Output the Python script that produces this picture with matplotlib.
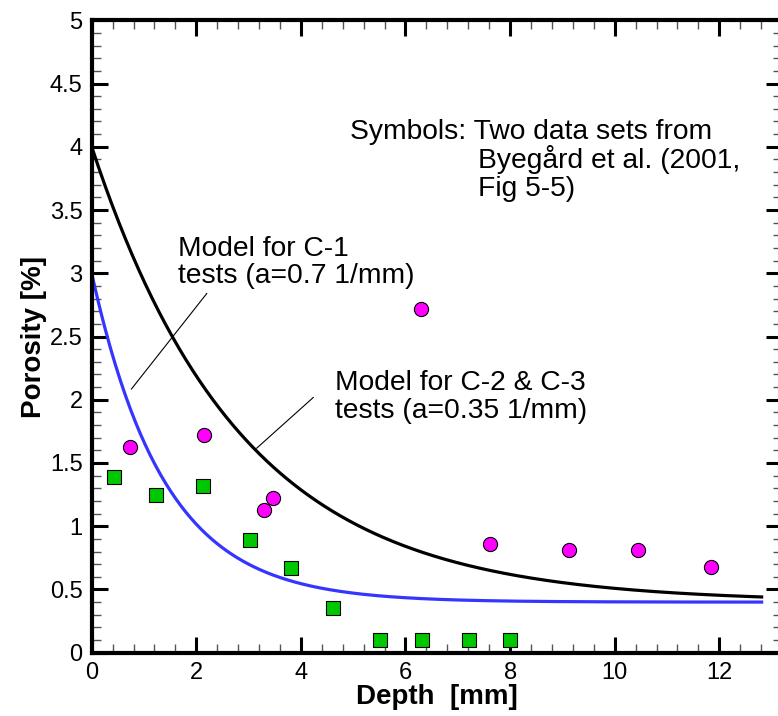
import numpy as np
import matplotlib
matplotlib.use("Agg")
import matplotlib.pyplot as plt
from matplotlib.ticker import MultipleLocator, FormatStrFormatter

plt.rcParams['font.family'] = ['Liberation Sans', 'DejaVu Sans']

# ---- data ----
sq_depth = [0.42, 1.22, 2.12, 3.02, 3.81, 4.61, 5.51, 6.31, 7.21, 8.0]
sq_porosity = [1.39, 1.25, 1.32, 0.89, 0.67, 0.35, 0.10, 0.10, 0.10, 0.10]

ci_depth = [0.73, 2.14, 3.29, 3.47, 6.30, 7.62, 9.12, 10.44, 11.85]
ci_porosity = [1.63, 1.72, 1.13, 1.22, 2.72, 0.86, 0.81, 0.81, 0.68]

# model curves: porosity = p_inf + (p0 - p_inf) * exp(-a * depth)
model_c1 = dict(p0=3.0, p_inf=0.40, a=0.72)
model_c23 = dict(p0=4.0, p_inf=0.40, a=0.35)
model_depth_max = 12.84

x_ticks = [0, 2, 4, 6, 8, 10, 12]
y_ticks = [0, 0.5, 1, 1.5, 2, 2.5, 3, 3.5, 4, 4.5, 5]

# ---- figure ----
W, H = 778, 716
fig = plt.figure(figsize=(W / 100, H / 100), dpi=100)
left_px, right_px, top_px, bot_px = 91.7, 782.0, 20.3, 652.7
ax = fig.add_axes([left_px / W, (H - bot_px) / H,
                   (right_px - left_px) / W, (bot_px - top_px) / H])

xd = np.linspace(0, model_depth_max, 400)
def model(p):
    return p['p_inf'] + (p['p0'] - p['p_inf']) * np.exp(-p['a'] * xd)

ax.plot(xd, model(model_c23), color='black', lw=2.3, solid_capstyle='butt', zorder=2)
ax.plot(xd, model(model_c1), color='#3535FF', lw=2.3, solid_capstyle='butt', zorder=2)

ax.plot(sq_depth, sq_porosity, ls='none', marker='s', ms=10,
        mfc='#00C800', mec='black', mew=0.8, zorder=3)
ax.plot(ci_depth, ci_porosity, ls='none', marker='o', ms=10.2,
        mfc='#FF00FF', mec='black', mew=0.8, zorder=3)

# leader lines
ax.plot([0.76, 2.20], [2.085, 2.84], color='black', lw=0.8, zorder=2)
ax.plot([3.155, 4.237], [1.617, 2.018], color='black', lw=0.8, zorder=2)

fs = 20.3
ax.text(1.656, 3.138, 'Model for C-1', fontsize=fs, va='baseline', ha='left')
ax.text(1.656, 2.920, 'tests (a=0.7 1/mm)', fontsize=fs, va='baseline', ha='left')
ax.text(4.652, 2.077, 'Model for C-2 & C-3', fontsize=fs, va='baseline', ha='left')
ax.text(4.652, 1.856, 'tests (a=0.35 1/mm)', fontsize=fs, va='baseline', ha='left')
ax.text(4.939, 4.058, 'Symbols: Two data sets from', fontsize=fs, va='baseline', ha='left')
ax.text(7.392, 3.836, 'Byegård et al. (2001,', fontsize=fs, va='baseline', ha='left')
ax.text(7.392, 3.614, 'Fig 5-5)', fontsize=fs, va='baseline', ha='left')

ax.set_xlim(0, (right_px - left_px) / 52.3)
ax.set_ylim(0, 5)
ax.set_xticks(x_ticks)
ax.set_yticks(y_ticks)
ax.xaxis.set_minor_locator(MultipleLocator(0.4))
ax.yaxis.set_minor_locator(MultipleLocator(0.1))
ax.yaxis.set_major_formatter(FormatStrFormatter('%g'))
ax.xaxis.set_major_formatter(FormatStrFormatter('%g'))

ax.tick_params(which='both', direction='in', top=True, right=True)
ax.tick_params(which='major', length=11.5, width=2.2, labelsize=17, pad=6.5)
ax.tick_params(which='minor', length=6.5, width=1.0, color='#555555')
for s in ax.spines.values():
    s.set_linewidth(3.0)

ax.set_xlabel('Depth  [mm]', fontsize=20, fontweight='bold', labelpad=0)
ax.set_ylabel('Porosity [%]', fontsize=20, fontweight='bold', labelpad=2)

fig.savefig('out.png', dpi=100)
